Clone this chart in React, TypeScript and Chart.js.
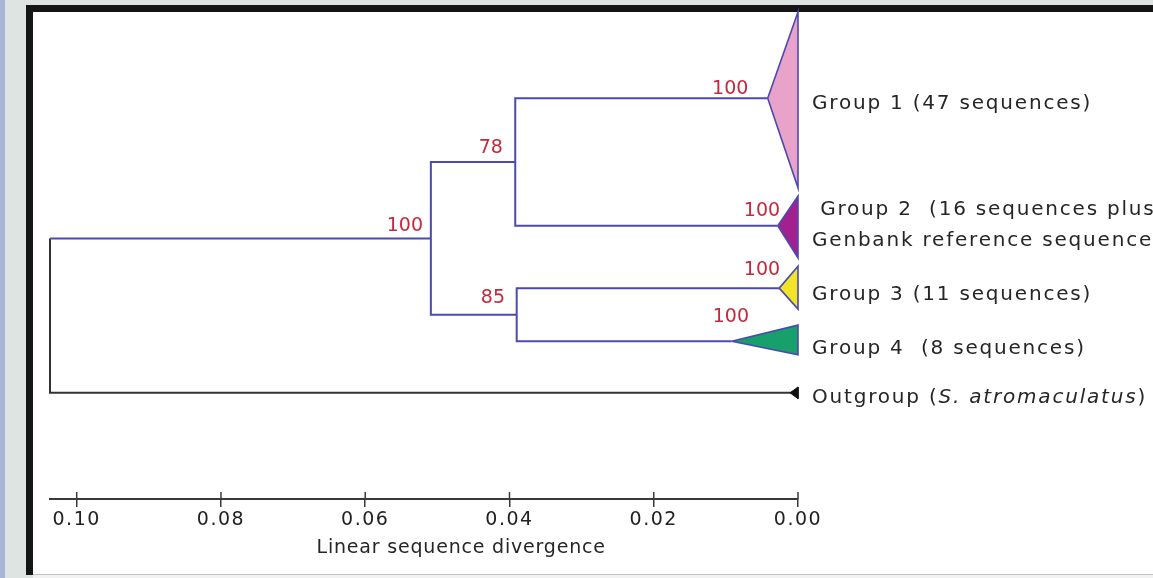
import React, { useEffect, useRef } from "react";
import { Chart, registerables } from "chart.js";

Chart.register(...registerables);

// ---- Axis ----
const TICK_VALUES = [0.1, 0.08, 0.06, 0.04, 0.02, 0.0];
const X_MAX = 0.1037; // root position (linear sequence divergence)
const Y_MAX = 100; // vertical layout units (leaf order)
const AXIS_TITLE = "Linear sequence divergence";
const AXIS_TITLE_X = 0.0467;

// ---- Collapsed clades (triangles) ----
const CLADE_APEX_X = [0.0042, 0.0028, 0.0026, 0.0092];
const CLADE_APEX_Y = [17.7, 43.9, 56.7, 67.6];
const CLADE_TOP_Y = [0.0, 37.8, 52.2, 64.3];
const CLADE_BOTTOM_Y = [36.1, 50.5, 61.0, 70.4];
const CLADE_COLORS = ["#e9a3cb", "#a3218f", "#f2e426", "#17a06b"];

// ---- Outgroup leaf ----
const OUTGROUP_X = 0.0;
const OUTGROUP_Y = 78.2;

// ---- Internal nodes: [78 node, 85 node, inner 100 node, root] ----
const NODE_X = [0.0392, 0.039, 0.0509, 0.1037];
const NODE_Y = [30.8, 62.15, 46.5, 62.35];

// ---- Bootstrap values ----
const BOOT_TEXT = ["100", "78", "100", "100", "100", "85", "100"];
const BOOT_X = [0.0094, 0.0426, 0.0545, 0.005, 0.005, 0.0423, 0.0093];
const BOOT_Y = [15.8, 27.9, 43.9, 40.9, 53.0, 58.7, 62.6];

// ---- Leaf labels ----
const LABEL_TEXT = [
  "Group 1 (47 sequences)",
  " Group 2  (16 sequences plus",
  "Genbank reference sequences)",
  "Group 3 (11 sequences)",
  "Group 4  (8 sequences)",
];
const LABEL_Y = [18.9, 40.7, 47.0, 58.1, 69.2];
const OUTGROUP_PARTS: [string, boolean][] = [
  ["Outgroup (", false],
  ["S. atromaculatus", true],
  [")", false],
];
const OUTGROUP_LABEL_Y = 79.3;

const BRANCH_COLOR = "#4a4ab2";
const ROOT_COLOR = "#333333";
const BOOT_COLOR = "#c22a3c";
const TEXT_COLOR = "#262626";
const FONT = "'DejaVu Sans', 'Liberation Sans', sans-serif";

const treeText = {
  id: "treeText",
  beforeDraw(chart: any) {
    chart.ctx.letterSpacing = "1.5px";
  },
  afterDraw(chart: any) {
    const { ctx, chartArea } = chart;
    const x = chart.scales.x;
    const y = chart.scales.y;
    ctx.save();
    // upper half of the tick marks
    ctx.strokeStyle = "#3a3a3a";
    ctx.lineWidth = 1.5;
    x.ticks.forEach((t: any) => {
      const px = x.getPixelForValue(t.value);
      ctx.beginPath();
      ctx.moveTo(px, chartArea.bottom - 7);
      ctx.lineTo(px, chartArea.bottom);
      ctx.stroke();
    });
    // bootstrap values
    ctx.letterSpacing = "0px";
    ctx.font = `19px ${FONT}`;
    ctx.fillStyle = BOOT_COLOR;
    ctx.textAlign = "center";
    ctx.textBaseline = "middle";
    BOOT_TEXT.forEach((t, i) => {
      ctx.fillText(t, x.getPixelForValue(BOOT_X[i]), y.getPixelForValue(BOOT_Y[i]));
    });
    // leaf labels
    ctx.letterSpacing = "1.8px";
    ctx.font = `20px ${FONT}`;
    ctx.fillStyle = TEXT_COLOR;
    ctx.textAlign = "left";
    const lx = x.getPixelForValue(0) + 14;
    LABEL_TEXT.forEach((t, i) => {
      ctx.fillText(t, lx, y.getPixelForValue(LABEL_Y[i]));
    });
    let cx = lx;
    const oy = y.getPixelForValue(OUTGROUP_LABEL_Y);
    OUTGROUP_PARTS.forEach(([t, it]) => {
      ctx.font = `${it ? "italic " : ""}20px ${FONT}`;
      ctx.fillText(t, cx, oy);
      cx += ctx.measureText(t).width;
    });
    // axis title
    ctx.letterSpacing = "0.8px";
    ctx.font = `19px ${FONT}`;
    ctx.textAlign = "center";
    ctx.fillText(AXIS_TITLE, x.getPixelForValue(AXIS_TITLE_X), chartArea.bottom + 49);
    ctx.restore();
  },
};

function line(points: { x: number; y: number }[], color: string, width = 2) {
  return {
    data: points,
    showLine: true,
    borderColor: color,
    borderWidth: width,
    pointRadius: 0,
    fill: false,
    clip: false,
    borderJoinStyle: "miter",
  };
}

export default function App() {
  const ref = useRef<HTMLCanvasElement>(null);

  useEffect(() => {
    const canvas = ref.current!;
    const datasets: any[] = [];

    // clades (filled triangles)
    CLADE_APEX_X.forEach((ax, i) => {
      datasets.push({
        data: [
          { x: ax, y: CLADE_APEX_Y[i] },
          { x: 0, y: CLADE_TOP_Y[i] },
          { x: 0, y: CLADE_BOTTOM_Y[i] },
          { x: ax, y: CLADE_APEX_Y[i] },
        ],
        showLine: true,
        borderColor: BRANCH_COLOR,
        borderWidth: 1.6,
        backgroundColor: CLADE_COLORS[i],
        fill: "shape",
        pointRadius: 0,
        clip: false,
        borderJoinStyle: "miter",
      });
    });

    // outgroup marker
    datasets.push({
      data: [
        { x: OUTGROUP_X + 0.0011, y: OUTGROUP_Y },
        { x: OUTGROUP_X, y: OUTGROUP_Y - 1.2 },
        { x: OUTGROUP_X, y: OUTGROUP_Y + 1.2 },
        { x: OUTGROUP_X + 0.0011, y: OUTGROUP_Y },
      ],
      showLine: true,
      borderColor: "#111",
      borderWidth: 1,
      backgroundColor: "#111",
      fill: "shape",
      pointRadius: 0,
      clip: false,
    });

    // node 78: Group 1 + Group 2
    datasets.push(
      line(
        [
          { x: CLADE_APEX_X[0], y: CLADE_APEX_Y[0] },
          { x: NODE_X[0], y: CLADE_APEX_Y[0] },
          { x: NODE_X[0], y: CLADE_APEX_Y[1] },
          { x: CLADE_APEX_X[1], y: CLADE_APEX_Y[1] },
        ],
        BRANCH_COLOR
      )
    );
    // node 85: Group 3 + Group 4
    datasets.push(
      line(
        [
          { x: CLADE_APEX_X[2], y: CLADE_APEX_Y[2] },
          { x: NODE_X[1], y: CLADE_APEX_Y[2] },
          { x: NODE_X[1], y: CLADE_APEX_Y[3] },
          { x: CLADE_APEX_X[3], y: CLADE_APEX_Y[3] },
        ],
        BRANCH_COLOR
      )
    );
    // inner node 100
    datasets.push(
      line(
        [
          { x: NODE_X[0], y: NODE_Y[0] },
          { x: NODE_X[2], y: NODE_Y[0] },
          { x: NODE_X[2], y: NODE_Y[1] },
          { x: NODE_X[1], y: NODE_Y[1] },
        ],
        BRANCH_COLOR
      )
    );
    // root -> inner node
    datasets.push(
      line(
        [
          { x: NODE_X[2], y: NODE_Y[2] },
          { x: NODE_X[3], y: NODE_Y[2] },
        ],
        BRANCH_COLOR
      )
    );
    // root -> outgroup
    datasets.push(
      line(
        [
          { x: NODE_X[3], y: NODE_Y[2] },
          { x: NODE_X[3], y: OUTGROUP_Y },
          { x: OUTGROUP_X, y: OUTGROUP_Y },
        ],
        ROOT_COLOR
      )
    );

    const chart = new Chart(canvas, {
      type: "scatter",
      data: { datasets },
      options: {
        responsive: false,
        animation: false,
        devicePixelRatio: 1,
        events: [],
        layout: { padding: { left: 50, right: 355, top: 12, bottom: 0 } },
        plugins: {
          legend: { display: false },
          tooltip: { enabled: false },
          title: { display: false },
        },
        scales: {
          x: {
            type: "linear",
            reverse: true,
            min: 0,
            max: X_MAX,
            afterBuildTicks: (s: any) => {
              s.ticks = TICK_VALUES.map((v) => ({ value: v }));
            },
            afterFit: (s: any) => {
              s.height = 79;
            },
            grid: {
              display: true,
              drawOnChartArea: false,
              drawTicks: true,
              tickLength: 8,
              color: "#3a3a3a",
              lineWidth: 1.5,
            },
            border: { display: true, color: "#3a3a3a", width: 2 },
            ticks: {
              color: "#222",
              font: { family: FONT, size: 19 },
              padding: 2,
              maxRotation: 0,
              autoSkip: false,
              callback: (v: any) => Number(v).toFixed(2),
            },
          },
          y: { type: "linear", display: false, reverse: true, min: 0, max: Y_MAX },
        },
      } as any,
      plugins: [treeText],
    });
    return () => chart.destroy();
  }, []);

  return (
    <div
      style={{
        position: "fixed",
        left: 0,
        top: 0,
        width: 1153,
        height: 578,
        overflow: "hidden",
        background: "#dde4e2",
      }}
    >
      <div style={{ position: "absolute", left: 0, top: 0, width: 5, height: 578, background: "#a9b5d5" }} />
      <div
        style={{
          position: "absolute",
          left: 26,
          top: 5,
          right: 0,
          bottom: 3,
          background: "#ffffff",
          borderTop: "7px solid #151515",
          borderLeft: "7px solid #151515",
        }}
      />
      <div style={{ position: "absolute", left: 33, top: 574, right: 0, height: 1, background: "#c4c4c4" }} />
      <div style={{ position: "absolute", left: 33, top: 575, right: 0, bottom: 0, background: "#f2f2f2" }} />
      <canvas ref={ref} width={1153} height={578} style={{ position: "absolute", left: 0, top: 0 }} />
    </div>
  );
}
